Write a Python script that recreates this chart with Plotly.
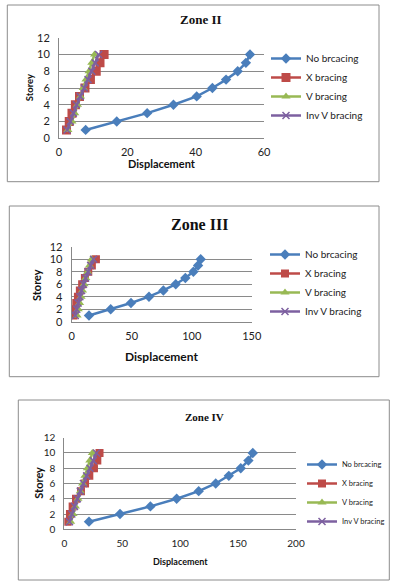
import plotly.graph_objects as go

storeys = [1, 2, 3, 4, 5, 6, 7, 8, 9, 10]
series_names = ["No brcacing", "X bracing", "V bracing", "Inv V bracing"]
zone_titles = ["Zone II", "Zone III", "Zone IV"]

# Zone II displacements
z2_none = [7.8, 16.9, 25.8, 33.5, 40.3, 44.9, 48.9, 52.3, 54.7, 55.9]
z2_x = [2.2, 3.0, 3.8, 4.8, 6.0, 7.6, 9.2, 10.9, 12.0, 13.2]
z2_v = [2.6, 3.8, 4.6, 5.4, 6.3, 7.1, 7.9, 8.8, 9.6, 10.4]
z2_inv = [2.4, 3.3, 4.2, 5.1, 6.2, 7.4, 8.5, 9.6, 10.6, 11.6]

# Zone III displacements
z3_none = [14.4, 32.5, 49.4, 64.4, 76.4, 86.7, 94.7, 101.4, 105.3, 107.5]
z3_x = [1.5, 2.5, 3.8, 5.2, 6.8, 8.7, 11.0, 13.8, 16.8, 20.2]
z3_v = [4.5, 5.5, 6.6, 7.8, 9.0, 10.3, 11.7, 13.2, 14.8, 16.5]
z3_inv = [3.0, 4.2, 5.4, 6.8, 8.2, 9.8, 11.6, 13.6, 15.8, 18.2]

# Zone IV displacements
z4_none = [21.3, 48.1, 74.3, 97.0, 116.0, 130.7, 142.0, 152.3, 158.9, 162.7]
z4_x = [2.9, 4.9, 7.2, 10.1, 14.4, 17.9, 21.6, 25.6, 28.5, 30.4]
z4_v = [5.5, 7.5, 9.6, 11.8, 13.8, 15.8, 17.8, 19.9, 22.0, 24.2]
z4_inv = [4.5, 6.5, 8.8, 11.3, 13.8, 16.5, 19.3, 22.2, 25.0, 27.8]

x_ranges = [[0, 60], [0, 150], [0, 200]]
x_dticks = [20, 50, 50]

W, H = 398, 586
def px(x):
    return x / W
def py(y):
    return 1 - y / H

colors = ["#4A7EBB", "#BE4B48", "#98B954", "#7D60A0"]
symbols = ["diamond", "square", "triangle-up", "x-thin"]

zones = [
    [z2_none, z2_x, z2_v, z2_inv],
    [z3_none, z3_x, z3_v, z3_inv],
    [z4_none, z4_x, z4_v, z4_inv],
]

# layout geometry (pixels)
plot_boxes = [  # x0, x1, ytop, ybottom
    (59, 264, 37.7, 138.3),
    (71.7, 251.7, 246.7, 321.7),
    (64.3, 296, 437.7, 529.3),
]
frames = [
    (7.3, 379, 5, 181.7),
    (9.3, 379, 206, 376.7),
    (18.3, 389.3, 400, 580),
]
tick_sizes = [11, 11, 10]
ytick_standoff = [6, 6, 6]
xtick_standoff = [3, 4, 5]
legend_sizes = [10, 10, 7.5]
marker_sizes = [[8, 9, 8, 7], [8, 8, 8, 7], [8, 8, 8, 7]]
title_info = [(201, 20, 13), (200, 224, 16), (204, 417, 11)]
xtitle_info = [(161.7, 164, 11), (161.7, 356, 12), (180, 561.7, 9)]
ytitle_info = [(29.3, 88, 9.5), (36, 285, 11), (37.7, 483, 11)]
legend_pos = [(266, 44), (265, 240), (302, 450)]

fig = go.Figure()
layout = dict(
    width=W, height=H, margin=dict(l=0, r=0, t=0, b=0, autoexpand=False),
    paper_bgcolor="white", plot_bgcolor="white",
    font=dict(family="Lato, Liberation Sans, sans-serif", color="#222"),
    shapes=[], annotations=[],
)

for i, data in enumerate(zones):
    n = "" if i == 0 else str(i + 1)
    leg = "legend" if i == 0 else f"legend{i + 1}"
    for j, vals in enumerate(data):
        fig.add_trace(go.Scatter(
            x=vals, y=storeys, mode="lines+markers", name=series_names[j],
            xaxis="x" + n, yaxis="y" + n, legend=leg,
            line=dict(color=colors[j], width=2.5),
            marker=dict(symbol=symbols[j], size=marker_sizes[i][j], color=colors[j],
                        line=dict(color=colors[j], width=1.5 if j == 3 else 0)),
        ))
    x0, x1, yt, yb = plot_boxes[i]
    layout["xaxis" + n] = dict(
        domain=[px(x0), px(x1)], anchor="y" + n, range=x_ranges[i], dtick=x_dticks[i],
        showline=True, linecolor="#888", linewidth=1, showgrid=False, zeroline=False,
        ticks="", ticklabelstandoff=xtick_standoff[i],
        tickfont=dict(size=tick_sizes[i], color="#222"), fixedrange=True,
    )
    layout["yaxis" + n] = dict(
        domain=[py(yb), py(yt)], anchor="x" + n, range=[0, 12], dtick=2,
        showline=True, linecolor="#888", linewidth=1, showgrid=True, gridcolor="#8a8a8a",
        gridwidth=1, zeroline=False, ticks="", ticklabelstandoff=ytick_standoff[i],
        tickfont=dict(size=tick_sizes[i], color="#222"), fixedrange=True,
    )
    lx, ly = legend_pos[i]
    layout[leg] = dict(
        x=px(lx), y=py(ly), xanchor="left", yanchor="top", bgcolor="rgba(0,0,0,0)",
        font=dict(size=legend_sizes[i], color="#222"), itemwidth=30, tracegroupgap=0,
    )
    fx0, fx1, fy0, fy1 = frames[i]
    layout["shapes"].append(dict(type="rect", xref="paper", yref="paper",
                                 x0=px(fx0), x1=px(fx1), y0=py(fy1), y1=py(fy0),
                                 line=dict(color="#8c8c8c", width=1)))
    tx, ty, ts = title_info[i]
    layout["annotations"].append(dict(text="<b>" + zone_titles[i] + "</b>", x=px(tx), y=py(ty),
                                      xref="paper", yref="paper", showarrow=False,
                                      xanchor="center", yanchor="middle",
                                      font=dict(family="Liberation Serif, DejaVu Serif, serif",
                                                size=ts, color="#111")))
    ax, ay, asz = xtitle_info[i]
    layout["annotations"].append(dict(text="<b>Displacement</b>", x=px(ax), y=py(ay),
                                      xref="paper", yref="paper", showarrow=False,
                                      xanchor="center", yanchor="middle",
                                      font=dict(size=asz, color="#111")))
    bx, by, bsz = ytitle_info[i]
    layout["annotations"].append(dict(text="<b>Storey</b>", x=px(bx), y=py(by), textangle=-90,
                                      xref="paper", yref="paper", showarrow=False,
                                      xanchor="center", yanchor="middle",
                                      font=dict(size=bsz, color="#111")))

fig.update_layout(**layout)
fig.write_html("out.html", config={"displayModeBar": False},
               post_script="document.body.style.margin='0';document.body.style.overflow='hidden';")
